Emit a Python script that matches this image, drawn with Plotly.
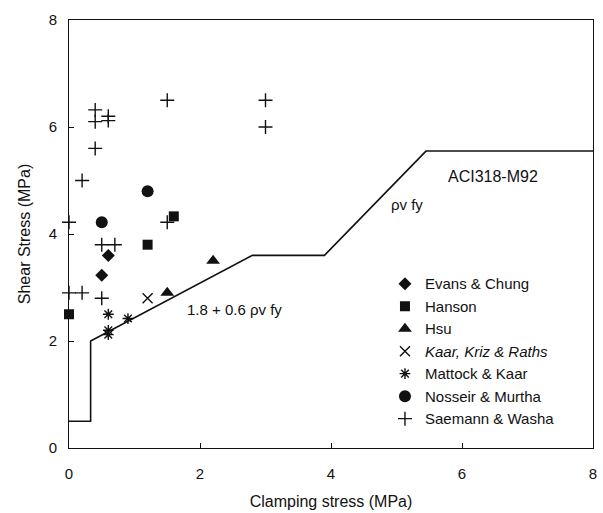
import plotly.graph_objects as go

# ---- data ----
evans_x = [0.6, 0.5]
evans_y = [3.6, 3.23]

hanson_x = [0.0, 1.2, 1.6]
hanson_y = [2.5, 3.8, 4.33]

hsu_x = [1.5, 2.2]
hsu_y = [2.9, 3.5]

kaar_x = [1.2]
kaar_y = [2.8]

mattock_x = [0.6, 0.9, 0.6, 0.6]
mattock_y = [2.5, 2.42, 2.2, 2.12]

nosseir_x = [0.5, 1.2]
nosseir_y = [4.22, 4.8]

saemann_x = [0.0, 0.0, 0.2, 0.2, 0.4, 0.4, 0.4, 0.6, 0.6, 0.5, 0.7, 0.5, 1.5, 1.5, 3.0, 3.0]
saemann_y = [4.22, 2.9, 2.9, 5.0, 5.6, 6.1, 6.32, 6.2, 6.12, 3.8, 3.8, 2.8, 6.5, 4.22, 6.5, 6.0]

aci_x = [0.0, 0.33, 0.33, 2.8, 3.9, 5.45, 8.0]
aci_y = [0.5, 0.5, 2.0, 3.6, 3.6, 5.55, 5.55]

x_ticks = [0, 2, 4, 6, 8]
y_ticks = [0, 2, 4, 6, 8]

FONT = "Liberation Sans, Arial, sans-serif"
INK = "#111111"

fig = go.Figure()

fig.add_trace(go.Scatter(x=aci_x, y=aci_y, mode="lines",
                         line=dict(color=INK, width=1.6),
                         showlegend=False, hoverinfo="skip"))

series = [
    ("Evans & Chung", evans_x, evans_y, "diamond", 10, 0),
    ("Hanson", hanson_x, hanson_y, "square", 10, 0),
    ("Hsu", hsu_x, hsu_y, "triangle-up", 12, 0),
    ("<i>Kaar, Kriz & Raths</i>", kaar_x, kaar_y, "x-thin-open", 10, 1.4),
    ("Mattock & Kaar", mattock_x, mattock_y, "asterisk-open", 9, 1.4),
    ("Nosseir & Murtha", nosseir_x, nosseir_y, "circle", 12, 0),
    ("Saemann & Washa", saemann_x, saemann_y, "cross-thin-open", 10, 1.4),
]
for name, xs, ys, sym, size, lw in series:
    fig.add_trace(go.Scatter(
        x=xs, y=ys, mode="markers", name=name, cliponaxis=False,
        marker=dict(symbol=sym, size=size, color=INK,
                    line=dict(color=INK, width=lw))))

ann_font = dict(family=FONT, size=15, color=INK)
fig.add_annotation(x=6.47, y=5.08, text="ACI318-M92", showarrow=False,
                   font=dict(family=FONT, size=16, color=INK))
fig.add_annotation(x=5.16, y=4.55, text="ρv fy", showarrow=False, font=ann_font)
fig.add_annotation(x=2.53, y=2.59, text="1.8 + 0.6 ρv fy", showarrow=False, font=ann_font)

axis_common = dict(
    showgrid=False, zeroline=False, showline=True, mirror=True,
    linecolor=INK, linewidth=1, ticks="inside", ticklen=5, tickcolor=INK,
    tickfont=dict(family=FONT, size=15, color=INK),
)

fig.update_xaxes(range=[0, 8], tickvals=x_ticks, ticklabelstandoff=12,
                 title=dict(text="Clamping stress (MPa)", standoff=14,
                            font=dict(family=FONT, size=16, color=INK)),
                 **axis_common)
fig.update_yaxes(range=[0, 8], tickvals=y_ticks, ticklabelstandoff=8,
                 title=dict(text="Shear Stress (MPa)", standoff=14,
                            font=dict(family=FONT, size=16, color=INK)),
                 **axis_common)

fig.update_layout(
    width=603, height=513,
    margin=dict(l=69, r=6, t=20, b=64),
    plot_bgcolor="white", paper_bgcolor="white",
    font=dict(family=FONT, color=INK),
    legend=dict(x=0.603, y=0.422, xanchor="left", yanchor="top",
                bgcolor="rgba(0,0,0,0)", borderwidth=0,
                font=dict(family=FONT, size=15, color=INK)),
)

fig.write_html("out.html")
